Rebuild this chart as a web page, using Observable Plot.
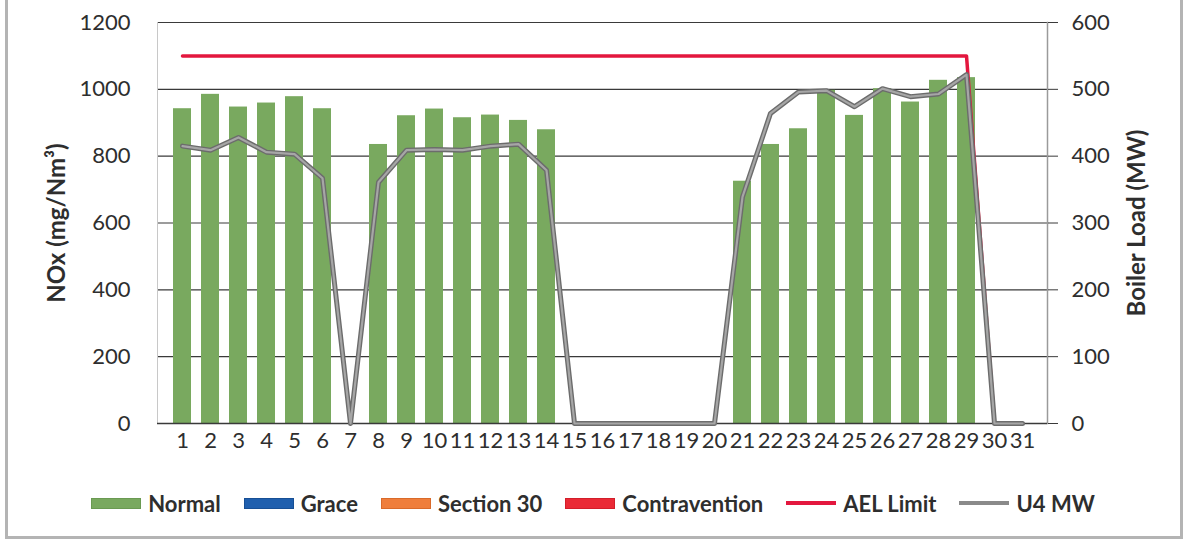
<!DOCTYPE html>
<html><head><meta charset="utf-8">
<script src="https://cdn.jsdelivr.net/npm/d3@7"></script>
<script src="https://cdn.jsdelivr.net/npm/@observablehq/plot@0.6"></script>
<style>
html,body{margin:0;padding:0;background:#fff;}
body{width:1183px;height:539px;position:relative;overflow:hidden;font-family:Lato,"Open Sans",sans-serif;}
#frame{position:absolute;left:5px;top:-5px;width:1178px;height:544px;border:3px solid #b4b4b4;box-sizing:border-box;pointer-events:none;}
#chart{position:absolute;left:0;top:0;}
#chart svg g[aria-label="y-axis label"] text{font-weight:bold;font-size:24px;}
#legend{position:absolute;left:0;top:488px;width:1186px;height:30px;display:flex;justify-content:center;align-items:center;gap:23px;font-weight:bold;font-size:22px;color:#2e2e2e;}
.item{display:flex;align-items:center;gap:7px;}
.sw{width:50px;height:11px;box-sizing:border-box;}
.ln{width:50px;height:4px;}
</style></head>
<body>
<div id="chart"></div>
<div id="legend"></div>
<div id="frame"></div>
<script>
const days = d3.range(1, 32);
const nox = [942, 985, 947, 959, 978, 942, null, 835, 921, 941, 915, 923, 907, 879, null, null, null, null, null, null, 725, 835, 882, 997, 922, 1002, 962, 1027, 1035, null, null];
const u4mw = [415, 409, 428, 406, 403, 367, 0, 361, 409, 410, 409, 415, 418, 379, 0, 0, 0, 0, 0, 0, 339, 464, 496, 498, 474, 501, 489, 493, 522, 0, 0];
const ael = [1100, 1100, 1100, 1100, 1100, 1100, 1100, 1100, 1100, 1100, 1100, 1100, 1100, 1100, 1100, 1100, 1100, 1100, 1100, 1100, 1100, 1100, 1100, 1100, 1100, 1100, 1100, 1100, 1100, 0, 0];
const leftTicks = [0, 200, 400, 600, 800, 1000, 1200];
const rightTicks = [0, 100, 200, 300, 400, 500, 600];
const legendItems = [
  {name: "Normal", color: "#79a95f", border: "#6a9a52", kind: "rect"},
  {name: "Grace", color: "#1f5fae", border: "#174f95", kind: "rect"},
  {name: "Section 30", color: "#ef7e3c", border: "#d96a2a", kind: "rect"},
  {name: "Contravention", color: "#ea2a36", border: "#d21e2a", kind: "rect"},
  {name: "AEL Limit", color: "#e3173e", kind: "line"},
  {name: "U4 MW", color: "#8a8a8a", kind: "line"}
];

const data = days.map((d, i) => ({day: d, nox: nox[i], mw: u4mw[i], ael: ael[i]}));
const bars = data.filter(d => d.nox != null);

const chart = Plot.plot({
  width: 1183, height: 470,
  marginLeft: 157, marginRight: 136, marginTop: 22, marginBottom: 47,
  style: {fontFamily: "Lato, 'Open Sans', sans-serif", fontSize: "22px", color: "#2e2e2e", background: "transparent"},
  x: {type: "band", domain: days, padding: 0.355, label: null},
  y: {domain: [0, 1200], label: null},
  marks: [
    Plot.gridY(leftTicks, {stroke: "#3a3a3a", strokeOpacity: 1, strokeWidth: 1.2}),
    Plot.frame({anchor: "left", stroke: "#c8c8c8"}),
    Plot.frame({anchor: "right", stroke: "#9a9a9a", strokeWidth: 1.5}),
    Plot.barY(bars, {x: "day", y: "nox", fill: "#79a95f"}),
    Plot.ruleY([0], {stroke: "#3a3a3a", strokeWidth: 1.5}),
    Plot.line(data, {x: "day", y: "ael", stroke: "#e3173e", strokeWidth: 3.5}),
    Plot.line(data, {x: "day", y: d => d.mw * 2, stroke: "#6c6c6c", strokeWidth: 5}),
    Plot.line(data, {x: "day", y: d => d.mw * 2, stroke: "#a6a6a6", strokeWidth: 2.2}),
    Plot.axisY(leftTicks, {anchor: "left", tickSize: 0, tickPadding: 27, tickFormat: d => String(d), label: "NOx (mg/Nm³)", labelArrow: "none", labelAnchor: "center", labelOffset: 110}),
    Plot.axisY(rightTicks.map(t => t * 2), {anchor: "right", tickSize: 10, tickPadding: 14, stroke: "#3a3a3a", tickFormat: d => String(d / 2), label: "Boiler Load (MW)", labelArrow: "none", labelAnchor: "center", labelOffset: 97}),
    Plot.axisX({tickSize: 0, tickPadding: 9})
  ]
});
document.getElementById("chart").appendChild(chart);

const leg = d3.select("#legend");
for (const it of legendItems) {
  const item = leg.append("div").attr("class", "item");
  if (it.kind === "rect") item.append("div").attr("class", "sw").style("background", it.color).style("border", `1px solid ${it.border}`);
  else item.append("div").attr("class", "ln").style("background", it.color);
  item.append("span").text(it.name);
}
</script>
</body></html>
